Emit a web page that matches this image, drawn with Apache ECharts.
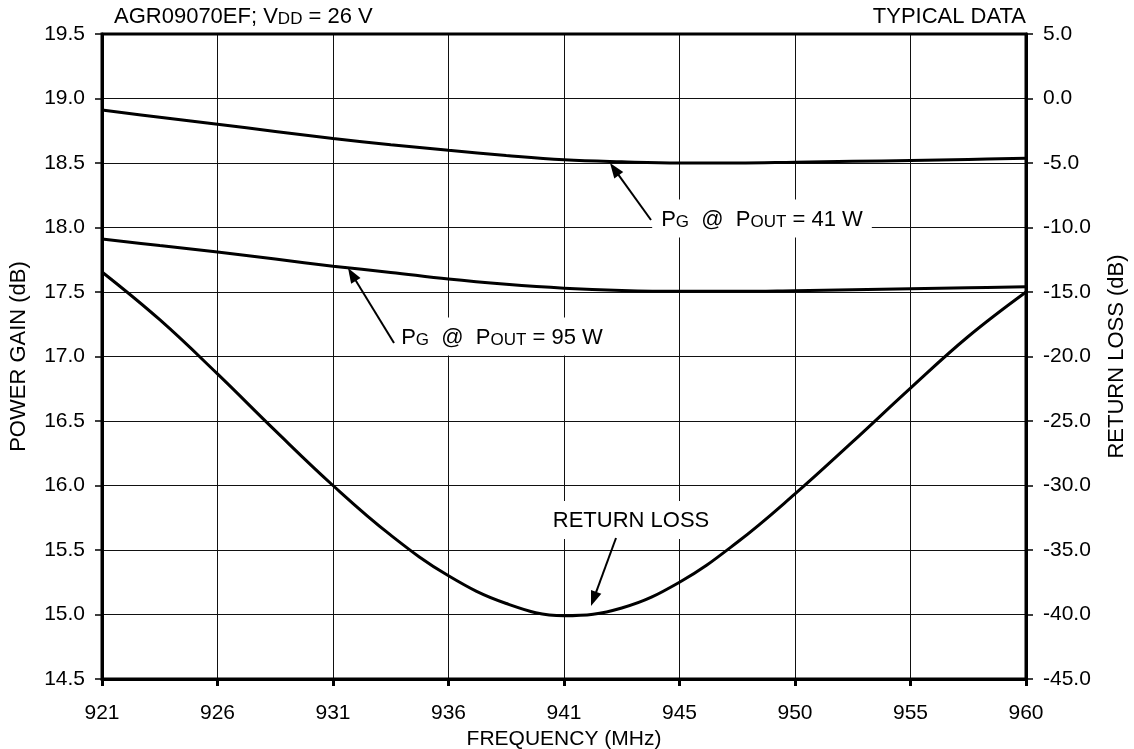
<!DOCTYPE html>
<html>
<head>
<meta charset="utf-8">
<script src="https://cdn.jsdelivr.net/npm/echarts@6/dist/echarts.min.js"></script>
<style>
html,body{margin:0;padding:0;background:#fff;}
#chart{width:1134px;height:749px;}
</style>
</head>
<body>
<div id="chart"></div>
<script>
// ---- data ----
const tickLabels = ['921','926','931','936','941','945','950','955','960'];
const freqs = [921, 923.5, 926, 928.5, 931, 933.5, 936, 938.5, 941, 943, 945, 947.5, 950, 952.5, 955, 957.5, 960];
const pg41 = [18.91, 18.855, 18.80, 18.745, 18.69, 18.642, 18.598, 18.558, 18.525, 18.509, 18.50, 18.50, 18.506, 18.513, 18.52, 18.528, 18.536];
const pg95 = [17.91, 17.86, 17.81, 17.755, 17.70, 17.652, 17.60, 17.56, 17.53, 17.512, 17.505, 17.505, 17.51, 17.517, 17.525, 17.533, 17.54];
const returnLoss = [-13.45, -17.15, -21.35, -25.75, -30.0, -33.85, -37.0, -39.15, -40.1, -39.5, -37.5, -34.4, -30.65, -26.6, -22.45, -18.45, -15.0];
const leftTicks = {min: 14.5, max: 19.5, step: 0.5};
const rightTicks = {min: -45, max: 5, step: 5};

const FONT = '"Liberation Sans", Arial, Helvetica, sans-serif';
const tickNums = tickLabels.map(Number);
function freqToPos(f) {
  for (let i = 0; i < tickNums.length - 1; i++) {
    const a = tickNums[i], b = tickNums[i + 1];
    if (f >= a && f <= b) return i + (f - a) / (b - a);
  }
  return f < tickNums[0] ? 0 : tickNums.length - 1;
}
const toPts = vals => freqs.map((f, i) => [freqToPos(f), vals[i]]);

const chart = echarts.init(document.getElementById('chart'), null, {renderer: 'canvas'});

const gridLine = {show: true, lineStyle: {color: '#111', width: 1}};
const rich = {
  n: {fontSize: 22, fontFamily: FONT, fill: '#000', verticalAlign: 'bottom', lineHeight: 24},
  s: {fontSize: 17, fontFamily: FONT, fill: '#000', verticalAlign: 'bottom', lineHeight: 24}
};

function arrow(tail, tip) {
  const dx = tip[0] - tail[0], dy = tip[1] - tail[1];
  const len = Math.sqrt(dx * dx + dy * dy);
  const ux = dx / len, uy = dy / len;
  const hl = 15, hw = 5.5;
  const bx = tip[0] - ux * hl, by = tip[1] - uy * hl;
  return [
    {type: 'line', shape: {x1: tail[0], y1: tail[1], x2: bx + ux * 2, y2: by + uy * 2},
     style: {stroke: '#000', lineWidth: 2}, z: 100},
    {type: 'polygon', shape: {points: [[tip[0], tip[1]], [bx - uy * hw, by + ux * hw], [bx + uy * hw, by - ux * hw]]},
     style: {fill: '#000'}, z: 100}
  ];
}
function label(text, x, y, pad) {
  return {type: 'text', x: x, y: y, z: 90,
    style: {text: text, rich: rich, align: 'center', verticalAlign: 'middle',
      backgroundColor: '#fff', padding: pad}};
}

const option = {
  animation: false,
  backgroundColor: '#fff',
  grid: {left: 102, right: 108, top: 34, bottom: 70, show: true, borderColor: '#000', borderWidth: 3, z: 10,
    containLabel: false, outerBoundsMode: 'none'},
  xAxis: {
    type: 'value', min: 0, max: tickLabels.length - 1, interval: 1,
    name: 'FREQUENCY (MHz)', nameLocation: 'middle', nameGap: 45,
    nameTextStyle: {fontFamily: FONT, fontSize: 21, color: '#000'},
    axisLine: {show: true, onZero: false, lineStyle: {color: '#000', width: 3}},
    axisTick: {show: true, length: 7, lineStyle: {color: '#000', width: 3}},
    axisLabel: {margin: 24, fontFamily: FONT, fontSize: 21, color: '#000',
      formatter: v => tickLabels[Math.round(v)]},
    splitLine: gridLine
  },
  yAxis: [{
    type: 'value', position: 'left', min: leftTicks.min, max: leftTicks.max, interval: leftTicks.step,
    name: 'POWER GAIN (dB)', nameLocation: 'middle', nameGap: 72, nameRotate: 90,
    nameTextStyle: {fontFamily: FONT, fontSize: 22, color: '#000'},
    axisLine: {show: true, onZero: false, lineStyle: {color: '#000', width: 3}},
    axisTick: {show: true, length: 7, lineStyle: {color: '#000', width: 1.5}},
    axisLabel: {margin: 17, fontFamily: FONT, fontSize: 21, color: '#000', formatter: v => v.toFixed(1)},
    splitLine: gridLine
  }, {
    type: 'value', position: 'right', min: rightTicks.min, max: rightTicks.max, interval: rightTicks.step,
    name: 'RETURN LOSS (dB)', nameLocation: 'middle', nameGap: 80, nameRotate: 90,
    nameTextStyle: {fontFamily: FONT, fontSize: 22, color: '#000'},
    axisLine: {show: true, onZero: false, lineStyle: {color: '#000', width: 3}},
    axisTick: {show: true, length: 7, lineStyle: {color: '#000', width: 1.5}},
    axisLabel: {margin: 17, fontFamily: FONT, fontSize: 21, color: '#000', formatter: v => v.toFixed(1)},
    splitLine: {show: false}
  }],
  series: [
    {name: 'PG @ POUT = 41 W', type: 'line', yAxisIndex: 0, data: toPts(pg41), smooth: 0.4, showSymbol: false,
      lineStyle: {color: '#000', width: 3}, z: 20},
    {name: 'PG @ POUT = 95 W', type: 'line', yAxisIndex: 0, data: toPts(pg95), smooth: 0.4, showSymbol: false,
      lineStyle: {color: '#000', width: 3}, z: 20},
    {name: 'RETURN LOSS', type: 'line', yAxisIndex: 1, data: toPts(returnLoss), smooth: 0.4, showSymbol: false,
      lineStyle: {color: '#000', width: 3}, z: 20}
  ],
  graphic: [].concat(
    [{type: 'text', x: 114, y: 16, z: 90,
      style: {text: '{n|AGR09070EF; V}{s|DD}{n| = 26 V}', rich: rich, align: 'left', verticalAlign: 'middle'}},
     {type: 'text', x: 1026, y: 16, z: 90,
      style: {text: '{n|TYPICAL DATA}', rich: rich, align: 'right', verticalAlign: 'middle'}}],
    [label('{n|P}{s|G}{n|  @  P}{s|OUT}{n| = 41 W}', 762, 218.5, [7, 9])],
    arrow([651, 220], [610, 163]),
    [label('{n|P}{s|G}{n|  @  P}{s|OUT}{n| = 95 W}', 502, 336.5, [7, 6])],
    arrow([394, 343], [348, 268]),
    [label('{n|RETURN LOSS}', 631, 520, [7, 8])],
    arrow([616, 538], [591, 606])
  )
};
chart.setOption(option);
</script>
</body>
</html>
